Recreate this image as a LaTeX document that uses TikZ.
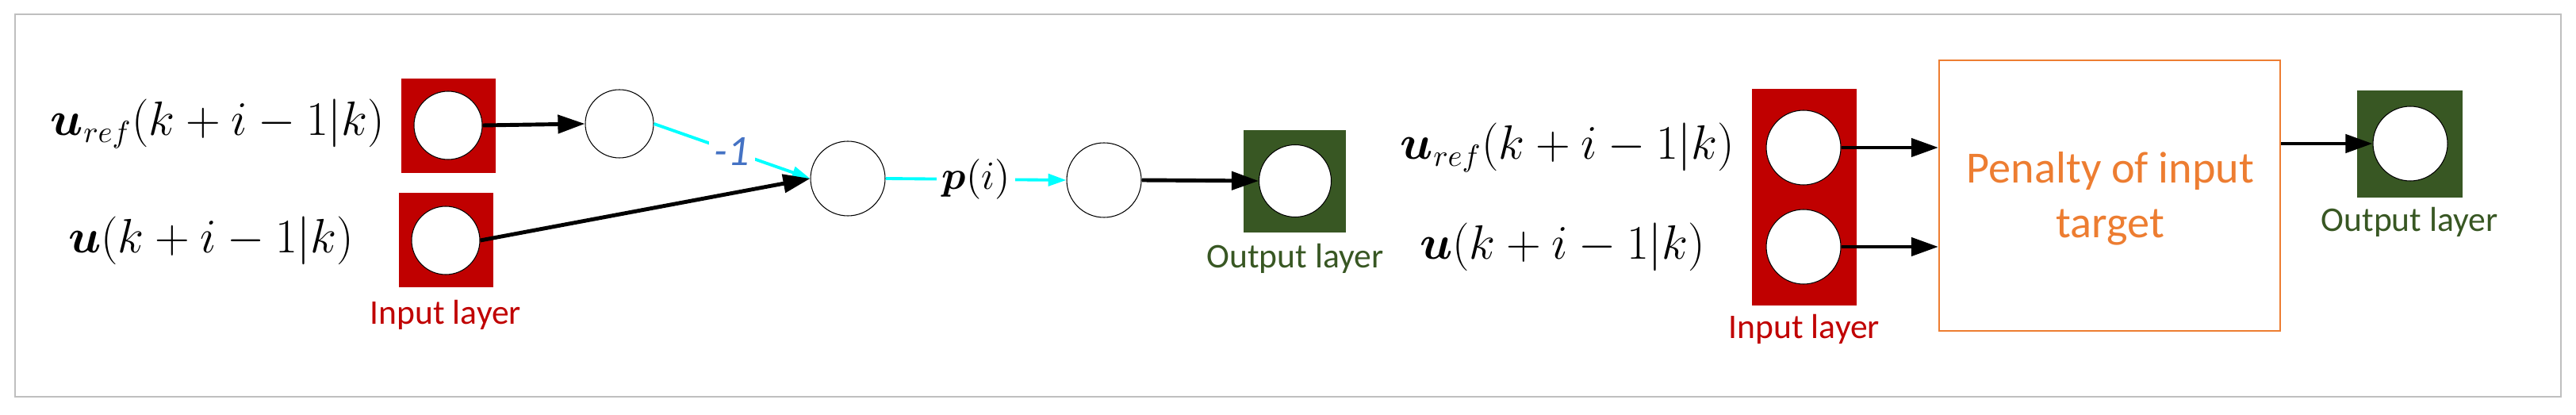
\documentclass[tikz,border=0pt]{standalone}
\usepackage{amsmath}
\usepackage[no-math]{fontspec}
\setmainfont{Carlito}
\usepackage{tikz}
\usetikzlibrary{shapes,arrows.meta}
\definecolor{in_red}{RGB}{192, 0, 0}
\definecolor{out_green}{RGB}{56, 87, 35}
\definecolor{pen_orange}{RGB}{237, 125, 49}
\definecolor{lbl_blue}{RGB}{68, 114, 196}
\definecolor{frame_grey}{RGB}{191, 191, 191}
\definecolor{edge_cyan}{RGB}{0, 255, 255}
\tikzstyle{unit}=[circle,fill=white,draw=black,line width=0.3pt,
  inner sep=0pt,minimum size=0.86cm]
\tikzstyle{big}=[unit,minimum size=0.94cm]
\tikzstyle{inbox}=[rectangle,fill=in_red,inner sep=0pt,
  minimum width=1.19cm,minimum height=1.19cm]
\tikzstyle{outbox}=[rectangle,fill=out_green,inner sep=0pt,
  minimum width=1.29cm,minimum height=1.29cm]
\tikzstyle{var}=[inner sep=0pt,anchor=east,font=\fontsize{16}{20}\selectfont]
\tikzstyle{layer}=[inner sep=0pt,font=\fontsize{12.4}{15}\selectfont]
\tikzstyle{wlbl}=[fill=white,inner sep=2pt,font=\fontsize{15.5}{18}\selectfont]
\tikzstyle{arr}=[draw=black,line width=1.4pt,-{Triangle[length=9.7pt,width=6.5pt]}]
\tikzstyle{carr}=[draw=edge_cyan,line width=1.1pt,-{Triangle[length=6.5pt,width=4.3pt]}]

\begin{document}
\begin{tikzpicture}[y=-1cm]
    \useasboundingbox (0,0) rectangle (32.48,5.23);
    \draw [draw=frame_grey,line width=0.6pt] (0.193,0.183) rectangle (32.29,5.00);

    \node [style=var] (uref) at (4.86,1.56) {$\boldsymbol{u}_{ref}(k+i-1|k)$};
    \node [style=var] (u) at (4.47,3.03) {$\boldsymbol{u}(k+i-1|k)$};
    \node [style=inbox] (inbox1) at (5.655,1.585) {};
    \node [style=inbox] (inbox2) at (5.625,3.03) {};
    \node [style=unit] (in1) at (5.65,1.58) {};
    \node [style=unit] (in2) at (5.62,3.03) {};
    \node [style=layer,text=in_red] (inlayer) at (5.62,3.97) {Input layer};
    \node [style=unit] (h1) at (7.81,1.56) {};
    \node [style=big] (h2) at (10.69,2.25) {};
    \node [style=big] (h3) at (13.92,2.27) {};
    \node [style=outbox] (outbox) at (16.325,2.285) {};
    \node [style=unit,minimum size=0.91cm] (out) at (16.33,2.28) {};
    \node [style=layer,text=out_green] (outlayer) at (16.33,3.26) {Output layer};
    \draw [style=arr] (in1.east) to (h1.west);
    \draw [style=carr] (h1.east) to node [style=wlbl,text=lbl_blue] {\itshape -1} (h2.west);
    \draw [style=arr] (in2.east) to (h2.west);
    \draw [style=carr] (h2.east) to node [style=wlbl] {$\boldsymbol{p}(i)$} (h3.west);
    \draw [style=arr] (h3.east) to (out.west);

    \node [style=var] (uref2) at (21.88,1.86) {$\boldsymbol{u}_{ref}(k+i-1|k)$};
    \node [style=var] (u2) at (21.51,3.11) {$\boldsymbol{u}(k+i-1|k)$};
    \node [style=inbox,minimum width=1.32cm,minimum height=2.73cm] (inbox3) at (22.75,2.485) {};
    \node [style=big] (in3) at (22.74,1.86) {};
    \node [style=big] (in4) at (22.74,3.11) {};
    \node [style=layer,text=in_red] (inlayer2) at (22.75,4.15) {Input layer};
    \node [rectangle,draw=pen_orange,line width=0.6pt,minimum width=4.30cm,minimum height=3.41cm,
      inner sep=0pt] (pen) at (26.60,2.465) {};
    \node [align=center,text=pen_orange,font=\fontsize{16}{19.6}\selectfont] (pentext) at (26.61,2.50)
      {Penalty of input\\target};
    \node [style=outbox,minimum width=1.33cm,minimum height=1.35cm] (outbox2) at (30.385,1.815) {};
    \node [style=big] (out2) at (30.39,1.81) {};
    \node [style=layer,text=out_green] (outlayer2) at (30.38,2.80) {Output layer};
    \draw [style=arr] (in3.east) to (in3.east -| pen.west);
    \draw [style=arr] (in4.east) to (in4.east -| pen.west);
    \draw [style=arr] (pen.east |- out2.west) to (out2.west);
\end{tikzpicture}
\end{document}
